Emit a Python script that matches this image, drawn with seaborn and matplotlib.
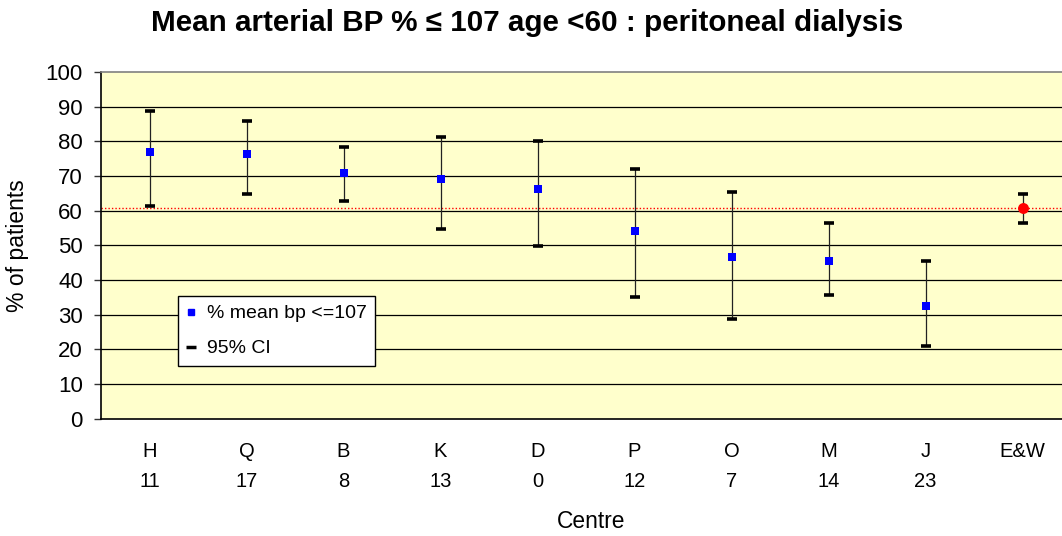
import matplotlib
matplotlib.use("Agg")
import matplotlib.pyplot as plt
from matplotlib.lines import Line2D
import seaborn as sns
import pandas as pd
import numpy as np

# ---- data ----
centres = ["H", "Q", "B", "K", "D", "P", "O", "M", "J", "E&W"]
counts = ["11", "17", "8", "13", "0", "12", "7", "14", "23", ""]
pct_mean = [76.8, 76.3, 70.9, 69.2, 66.1, 54.0, 46.5, 45.4, 32.4, 60.7]
ci_upper = [88.7, 86.0, 78.5, 81.2, 80.1, 71.9, 65.5, 56.3, 45.4, 64.9]
ci_lower = [61.3, 64.9, 62.8, 54.6, 49.7, 35.1, 28.6, 35.6, 21.0, 56.3]
national_mean = 60.8
yticks = [0, 10, 20, 30, 40, 50, 60, 70, 80, 90, 100]

df = pd.DataFrame({"centre": centres, "pct": pct_mean,
                   "upper": ci_upper, "lower": ci_lower})
df_c = df[df["centre"] != "E&W"]
df_ew = df[df["centre"] == "E&W"]

sns.set_style("white")
plt.rcParams["font.family"] = ["Liberation Sans", "DejaVu Sans"]
plt.rcParams["text.color"] = "black"
plt.rcParams["axes.labelcolor"] = "black"
plt.rcParams["xtick.color"] = "black"
plt.rcParams["ytick.color"] = "black"

fig = plt.figure(figsize=(10.62, 5.36), dpi=100)
ax = fig.add_axes([101 / 1062, 1 - 418.6 / 536, 970 / 1062, 346.6 / 536])
ax.set_facecolor("#FFFFCC")

x_pos = np.arange(len(centres))

# gridlines
for y in yticks[1:-1]:
    ax.axhline(y, color="black", lw=0.9, zorder=1)

# national mean reference line
ax.axhline(national_mean, color="red", lw=1.0, ls=(0, (1, 1.5)), zorder=2)

# CI high-low lines
ax.vlines(x_pos, df["lower"], df["upper"], color="#222222", lw=0.9, zorder=3)
# CI caps
ax.plot(x_pos, df["upper"], ls="none", marker="_", ms=7.5, mew=2.6,
        color="black", zorder=4)
ax.plot(x_pos, df["lower"], ls="none", marker="_", ms=7.5, mew=2.6,
        color="black", zorder=4)

# means
sns.scatterplot(data=df_c, x="centre", y="pct", marker="s", s=32,
                color="#0000FF", edgecolor="#0000FF", linewidth=0, ax=ax,
                zorder=5)
sns.scatterplot(data=df_ew, x="centre", y="pct", marker="o", s=62,
                color="#FF0000", edgecolor="#FF0000", linewidth=0, ax=ax,
                zorder=5)

ax.set_xlim(-0.5, len(centres) - 0.5)
ax.set_ylim(0, 100)
ax.set_yticks(yticks)
ax.set_yticklabels([str(v) for v in yticks])

ax.set_xticks(x_pos)
ax.set_xticklabels([f"{c}\n{n}" for c, n in zip(centres, counts)],
                   linespacing=1.75)
ax.set_xticks(np.arange(len(centres) + 1) - 0.5, minor=True)
ax.tick_params(axis="x", which="major", length=0, pad=17, labelsize=14.5)
ax.tick_params(axis="x", which="minor", length=14, direction="inout",
               width=1, color="#333333")
ax.tick_params(axis="y", which="major", length=5, width=1, direction="out",
               pad=8, labelsize=16, color="#333333", left=True)

for s in ["left", "bottom"]:
    ax.spines[s].set_color("black")
    ax.spines[s].set_linewidth(1.2)
ax.spines["top"].set_color("#808080")
ax.spines["top"].set_linewidth(1.2)
ax.spines["right"].set_visible(False)

ax.set_xlabel("Centre", fontsize=16.4)
ax.set_ylabel("% of patients", fontsize=16.5)
ax.xaxis.set_label_coords((591 - 101) / 970, (418.6 - 521) / 346.6)
ax.xaxis.label.set_va("center")
ax.yaxis.set_label_coords((18 - 101) / 970, 0.5)
ax.yaxis.label.set_va("center")

fig.text(527 / 1062, 1 - 31 / 536,
         "Mean arterial BP % \u2264 107 age <60 : peritoneal dialysis",
         ha="center", va="baseline", fontsize=21.3, fontweight="bold")

handles = [
    Line2D([], [], ls="none", marker="s", ms=4.5, color="#0000FF"),
    Line2D([], [], ls="none", marker="_", ms=7, mew=2.5, color="black"),
]
leg = ax.legend(handles, ["% mean bp <=107", "95% CI"],
                loc="upper left",
                bbox_to_anchor=((178 - 101) / 970, (418.6 - 296) / 346.6),
                borderaxespad=0, frameon=True, fancybox=False,
                edgecolor="black", framealpha=1, fontsize=14,
                handlelength=0.4, handletextpad=0.62, labelspacing=0.9,
                borderpad=0.45)
leg.get_frame().set_linewidth(1.0)
leg.set_zorder(10)

fig.savefig("out.png", dpi=100, facecolor="white")
